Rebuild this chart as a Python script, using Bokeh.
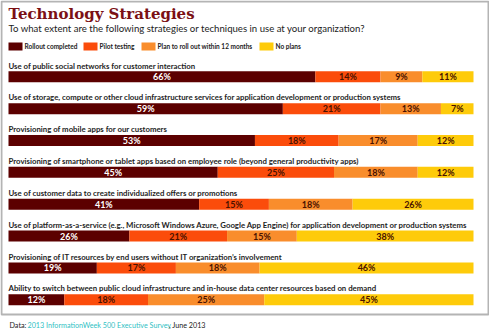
from bokeh.plotting import figure
from bokeh.models import ColumnDataSource, Range1d, Label
from bokeh.core.properties import value
from bokeh.embed import file_html
from bokeh.resources import INLINE
import numpy as np

# ---- data ----
questions = [
    "Use of public social networks for customer interaction",
    "Use of storage, compute or other cloud infrastructure services for application development or production systems",
    "Provisioning of mobile apps for our customers",
    "Provisioning of smartphone or tablet apps based on employee role (beyond general productivity apps)",
    "Use of customer data to create individualized offers or promotions",
    "Use of platform-as-a-service (e.g., Microsoft Windows Azure, Google App Engine) for application development or production systems",
    "Provisioning of IT resources by end users without IT organization\u2019s involvement",
    "Ability to switch between public cloud infrastructure and in-house data center resources based on demand",
]
series_names = ["Rollout completed", "Pilot testing", "Plan to roll out within 12 months", "No plans"]
rollout = [66, 59, 53, 45, 41, 26, 19, 12]
pilot = [14, 21, 18, 25, 15, 21, 17, 18]
plan12 = [9, 13, 17, 18, 18, 15, 18, 25]
noplans = [11, 7, 12, 12, 26, 38, 46, 45]

title = "Technology Strategies"
subtitle = "To what extent are the following strategies or techniques in use at your organization?"
source_prefix = "Data: "
source_link = "2013 InformationWeek 500 Executive Survey"
source_suffix = ", June 2013"

colors = ["#5c0000", "#fb4c0b", "#f98d2c", "#fecb0a"]
text_colors = ["#ffffff", "#4a1200", "#4a1200", "#4a1200"]

W, H = 489, 336
BAR_L, BAR_R = 8, 473
ROW0, ROWSTEP = 76.3, 31.85

x0 = -BAR_L / (BAR_R - BAR_L) * 100
x1 = 100 + (W - BAR_R) / (BAR_R - BAR_L) * 100
y_top = (0 - ROW0) / ROWSTEP
y_bot = (H - ROW0) / ROWSTEP

def px(xp):
    return x0 + xp / W * (x1 - x0)

def py(yp):
    return (yp - ROW0) / ROWSTEP

p = figure(width=W, height=H, output_backend="svg", toolbar_location=None,
           x_range=Range1d(x0, x1), y_range=Range1d(y_bot, y_top),
           min_border=0, min_border_left=0, min_border_right=0,
           min_border_top=0, min_border_bottom=0)
p.axis.visible = False
p.grid.visible = False
p.outline_line_color = None
p.background_fill_color = "white"
p.border_fill_color = "white"

# outer box
p.quad(left=[px(1)], right=[px(488)], top=[py(1)], bottom=[py(314)],
       fill_color=None, line_color="#b4b4b4", line_width=2)

rows = list(range(len(questions)))
src = ColumnDataSource(dict(row=rows, q=questions, r=rollout, p=pilot, pl=plan12, n=noplans))
p.hbar_stack(["r", "p", "pl", "n"], y="row", height=11 / ROWSTEP, color=colors,
             line_color=None, source=src)

# segment labels
vals = np.array([rollout, pilot, plan12, noplans], dtype=float)
cum = np.cumsum(vals, axis=0)
mids = cum - vals / 2
for k in range(4):
    s = ColumnDataSource(dict(x=mids[k], y=rows, t=[f"{int(v)}%" for v in vals[k]]))
    p.text(x="x", y="y", text="t", source=s, text_align="center", text_baseline="middle",
           text_font=value("Lato"), text_font_size="9px",
           text_font_style="bold", text_color=text_colors[k])

# question labels
qsrc = ColumnDataSource(dict(x=[0] * len(rows), y=[r - 11.3 / ROWSTEP for r in rows], t=questions))
p.text(x="x", y="y", text="t", source=qsrc, text_align="left", text_baseline="middle",
       text_font=value("Lato"), text_font_size="7.8px",
       text_font_style="bold", text_color="#1e1e1e")

# title & subtitle
p.add_layout(Label(x=px(8), y=py(13), text=title, text_font="DejaVu Serif",
                   text_font_style="bold", text_font_size="15px", text_color="#7b1014",
                   text_baseline="middle"))
p.add_layout(Label(x=px(8), y=py(28.3), text=subtitle, text_font="Lato",
                   text_font_size="9.6px", text_color="#222222", text_baseline="middle"))

# legend
leg_x = [8, 83, 141, 259]
for k in range(4):
    p.quad(left=[px(leg_x[k])], right=[px(leg_x[k] + 14)], top=[py(42)], bottom=[py(50)],
           fill_color=colors[k], line_color=None)
    p.add_layout(Label(x=px(leg_x[k] + 16), y=py(46), text=series_names[k],
                       text_font="Lato", text_font_style="bold",
                       text_font_size="6.5px", text_color="#222222", text_baseline="middle"))

# footer
fy = py(324.5)
l1 = Label(x=px(9), y=fy, text=source_prefix, text_font="Lato", text_font_size="7.2px",
           text_color="#222222", text_baseline="middle")
l2 = Label(x=px(27), y=fy, text=source_link, text_font="Lato", text_font_size="7.2px",
           text_color="#2fbfc4", text_baseline="middle")
l3 = Label(x=px(168.5), y=fy, text=source_suffix, text_font="Lato", text_font_size="7.2px",
           text_color="#222222", text_baseline="middle")
for l in (l1, l2, l3):
    p.add_layout(l)

open("out.html", "w").write(file_html(p, INLINE))
